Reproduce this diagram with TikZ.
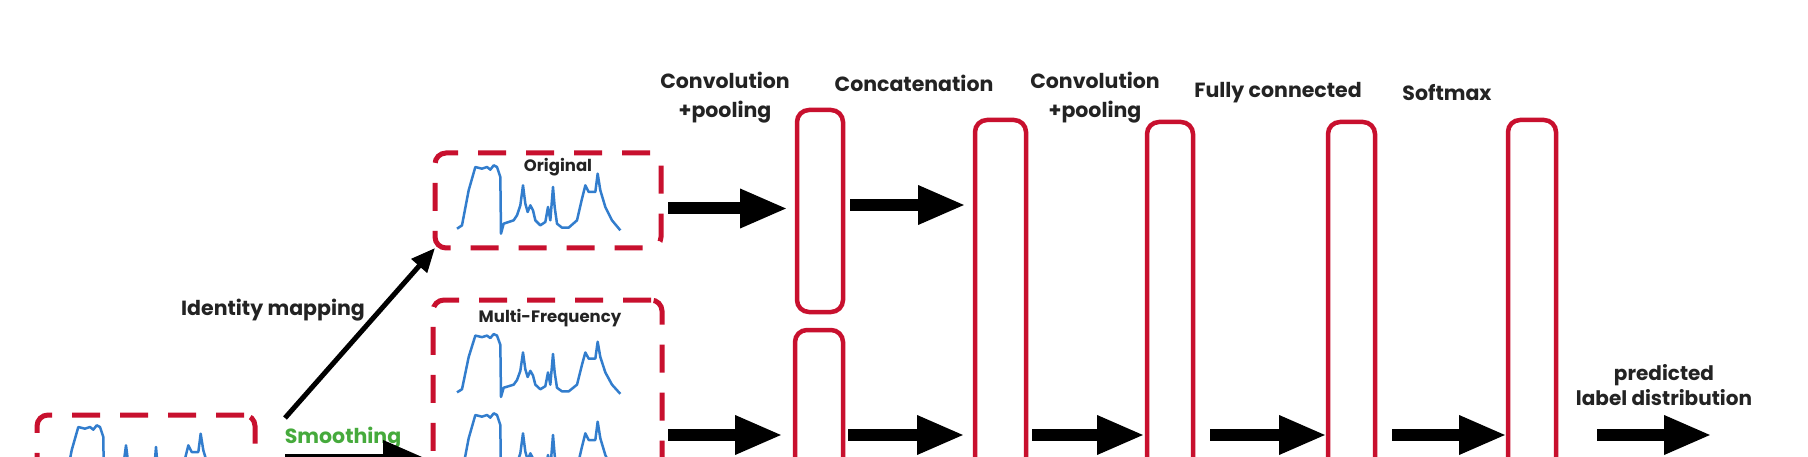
\documentclass[tikz,border=0pt]{standalone}
\usepackage{fontspec}
\setmainfont{Poppins}
\usetikzlibrary{arrows.meta,calc}
\definecolor{boxred}{RGB}{200,16,46}
\definecolor{sigblue}{RGB}{50,125,205}
\definecolor{txt}{RGB}{35,35,35}
\definecolor{sgreen}{RGB}{70,170,60}
\tikzset{
  layer/.style={draw=boxred, line width=4.5pt, rounded corners=12pt, inner sep=0pt, outer sep=0pt},
  dashbox/.style={draw=boxred, line width=5pt, dash pattern=on 28pt off 20pt, rounded corners=11pt, inner sep=0pt, outer sep=0pt},
  bigarrow/.style={line width=12pt, -{Triangle[length=48pt,width=36pt]}},
  thinarrow/.style={line width=5pt, -{Triangle[length=24pt,width=20pt]}},
  hdr/.style={font=\bfseries\fontsize{20.5}{29}\selectfont, text=txt, align=center, inner sep=0pt},
  small/.style={font=\bfseries\fontsize{16.5}{20}\selectfont, text=txt, inner sep=0pt},
  sig/.style={draw=sigblue, line width=2.5pt, line join=round},
}
\newcommand\sigpath{(0,-25) -- (15,-35) -- (35,-140) -- (55,-210) -- (75,-205) -- (90,-210) -- (100,-202) -- (110,-215) -- (120,-210) -- (130,-180) -- (132,-10) -- (140,-40) -- (155,-45) -- (170,-50) -- (180,-65) -- (190,-95) -- (198,-155) -- (205,-100) -- (212,-75) -- (220,-95) -- (228,-80) -- (235,-50) -- (250,-35) -- (265,-45) -- (273,-90) -- (280,-50) -- (288,-150) -- (293,-90) -- (300,-40) -- (315,-28) -- (335,-28) -- (360,-50) -- (375,-115) -- (385,-155) -- (395,-135) -- (415,-135) -- (422,-190) -- (430,-140) -- (445,-90) -- (465,-50) -- (490,-20)}
\begin{document}
\begin{tikzpicture}[x=1pt,y=-1pt]
\useasboundingbox (0,0) rectangle (1808,457);
\fill[white] (0,0) rectangle (1808,457);
\clip (0,0) rectangle (1808,457);

% input and representation boxes
\node[dashbox, minimum width=218pt, minimum height=145pt] (inp) at (146,487.5) {};
\node[dashbox, minimum width=226pt, minimum height=95pt] (orig) at (548,200.5) {};
\node[dashbox, minimum width=229pt, minimum height=300pt] (mf) at (547.5,450) {};

% signals
\begin{scope}[shift={(457,237)}, scale=1/3] \draw[sig] \sigpath; \end{scope}
\begin{scope}[shift={(457,400)}, scale=1/3, yscale=0.92] \draw[sig] \sigpath; \end{scope}
\begin{scope}[shift={(457,485)}, scale=1/3] \draw[sig] \sigpath; \end{scope}
\begin{scope}[shift={(60,497)}, scale=1/3] \draw[sig] \sigpath; \end{scope}

% layer boxes
\node[layer, minimum width=46pt, minimum height=202pt] (c1a) at (820,211) {};
\node[layer, minimum width=48pt, minimum height=270pt] (c1b) at (819,465) {};
\node[layer, minimum width=51pt, minimum height=480pt] (cat) at (1000.5,360) {};
\node[layer, minimum width=46pt, minimum height=478pt] (c2) at (1170,361) {};
\node[layer, minimum width=47pt, minimum height=478pt] (fc) at (1351.5,361) {};
\node[layer, minimum width=48pt, minimum height=480pt] (sm) at (1532,360) {};
\coordinate (out) at (1712,435);

% labels
\node[hdr] (lc1) at (725,97.5) {Convolution\\+pooling};
\node[hdr] (lcat) at (914,83) {Concatenation};
\node[hdr] (lc2) at (1095,97.5) {Convolution\\+pooling};
\node[hdr] (lfc) at (1278,93) {Fully connected};
\node[hdr] (lsm) at (1447,93) {Softmax};
\node[hdr, font=\bfseries\fontsize{20}{25}\selectfont] (lout) at (1664,385.5) {predicted\\label distribution};
\node[hdr] (lid) at (273,310) {Identity mapping};
\node[hdr, text=sgreen] (lsmooth) at (343,438) {Smoothing};
\node[small] (lorig) at (558,167) {Original};
\node[small] (lmf) at (550,318) {Multi-Frequency};

% connectors
\coordinate (row) at (0,435);
\draw[thinarrow] ($(inp.north east)+(30,3)$) -- (orig.south west);
\draw[bigarrow] ($(inp.north east)+(30,45)$) -- ($(mf.west |- 0,460)+(-2,0)$);
\draw[bigarrow] ($(orig.east)+(7,8)$) -- ($(c1a.west |- 0,208.5)+(-9,0)$);
\draw[bigarrow] ($(c1a.east)+(7,-6)$) -- ($(cat.west |- 0,205)+(-9,0)$);
\draw[bigarrow] ($(mf.east |- row)+(6,0)$) -- ($(c1b.west |- row)+(-12,0)$);
\draw[bigarrow] ($(c1b.east |- row)+(5,0)$) -- ($(cat.west |- row)+(-10,0)$);
\draw[bigarrow] ($(cat.east |- row)+(6,0)$) -- ($(c2.west |- row)+(-2,0)$);
\draw[bigarrow] ($(c2.east |- row)+(17,0)$) -- ($(fc.west |- row)+(-1,0)$);
\draw[bigarrow] ($(fc.east |- row)+(17,0)$) -- ($(sm.west |- row)+(-1,0)$);
\draw[bigarrow] ($(sm.east |- row)+(41,0)$) -- (out);
\end{tikzpicture}
\end{document}
